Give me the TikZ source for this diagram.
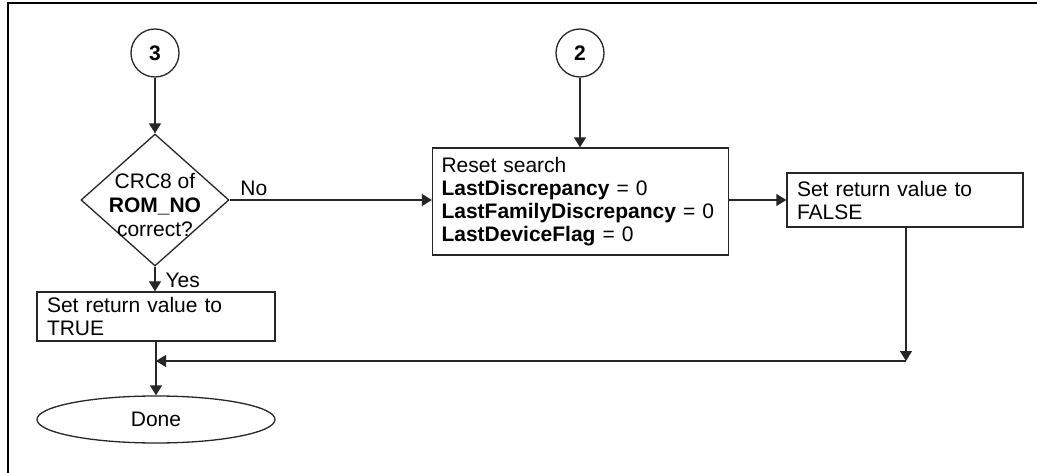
\documentclass[tikz,border=0pt]{standalone}
\usepackage{fontspec}
\setmainfont{Liberation Sans}
\usetikzlibrary{shapes.geometric,arrows.meta}
\begin{document}
\begin{tikzpicture}[x=1pt,y=-1pt,
  every node/.style={font=\fontsize{21}{23}\selectfont},
  ln/.style={line width=1.3pt, draw=black!85},
  arr/.style={ln, -{Triangle[width=12pt,length=10pt]}},
  conn/.style={circle, ln, minimum size=48pt, inner sep=0pt},
  box/.style={rectangle, ln, inner xsep=10pt, align=left},
  dec/.style={diamond, ln, minimum width=148pt, minimum height=132pt, inner sep=0pt},
  term/.style={ellipse, ln, minimum width=238pt, minimum height=47pt, inner sep=0pt}
]
\useasboundingbox (0,0) rectangle (1037,473);
\draw[line width=1.5pt] (8,473) -- (8,3) -- (1037,3);

\node[conn] (c3) at (155,53) {\textbf{3}};
\node[conn] (c2) at (580,53) {\textbf{2}};
\node[dec] (d) at (155,200) {};
\node[align=center, inner sep=0pt, font=\fontsize{21}{24}\selectfont] (dt) at (155,205) {CRC8 of\\\textbf{ROM\_NO}\\correct?};
\node[box, minimum width=238pt, minimum height=49pt, text width=218pt] (t) at (156,316.5) {Set return value to\\TRUE};
\node[term] (done) at (156,419.5) {Done};
\node[box, minimum width=295pt, minimum height=107pt, text width=278pt, inner xsep=9pt] (r) at (580.5,201.5)
  {Reset search\\\textbf{LastDiscrepancy} = 0\\\textbf{LastFamilyDiscrepancy} = 0\\\textbf{LastDeviceFlag} = 0};
\node[box, minimum width=236pt, minimum height=54pt, text width=216pt] (f) at (905,200) {Set return value to\\FALSE};

\coordinate (corner) at (906,361);
\coordinate (merge) at (156,361);

\draw[arr] (c3) -- (d.north);
\draw[arr] (c2) -- (r.north -| c2);
\draw[arr] (d.east) -- node[pos=0.04, anchor=south west, inner sep=2pt, yshift=2pt] (no) {No} (r.west |- d.east);
\draw[arr] (d.south) -- node[anchor=west, inner sep=0pt, pos=0.55, xshift=10pt] (yes) {Yes} (t.north -| d.south);
\draw[arr] (r.east |- f.west) -- (f.west);
\draw[arr] (f.south -| corner) -- (corner);
\draw[arr] (corner) -- (merge);
\draw[arr] (t.south -| done) -- (done.north);
\end{tikzpicture}
\end{document}
